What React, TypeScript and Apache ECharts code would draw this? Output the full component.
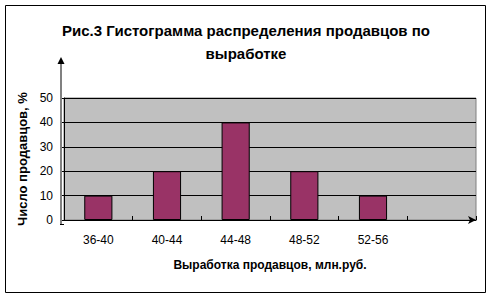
import React, { useEffect, useRef } from "react";
import * as echarts from "echarts";

const categories = ["36-40", "40-44", "44-48", "48-52", "52-56", ""];
const shares = [10, 20, 40, 20, 10];
const yTicks = { min: 0, max: 50, interval: 10 };
const titleText = "Рис.3 Гистограмма распределения продавцов по\nвыработке";
const xTitle = "Выработка продавцов, млн.руб.";
const yTitle = "Число продавцов, %";

const FONT = "'Liberation Sans', Arial, sans-serif";

export default function App() {
  const ref = useRef<HTMLDivElement>(null);
  useEffect(() => {
    if (!ref.current) return;
    const chart = echarts.init(ref.current, null, { renderer: "svg" });
    chart.setOption({
      animation: false,
      backgroundColor: "#ffffff",
      textStyle: { fontFamily: FONT },
      title: {
        text: titleText,
        left: 246,
        textAlign: "center",
        top: 19,
        padding: 0,
        textStyle: {
          fontFamily: FONT,
          fontSize: 15,
          fontWeight: "bold",
          color: "#000",
          lineHeight: 23,
        },
      },
      grid: {
        left: 64,
        top: 98,
        width: 412,
        height: 122,
        show: true,
        backgroundColor: "#C0C0C0",
        borderColor: "#808080",
        borderWidth: 1,
      },
      xAxis: {
        type: "category",
        data: categories,
        boundaryGap: true,
        offset: 4,
        axisLine: {
          show: true,
          lineStyle: { color: "#000", width: 1 },
          symbol: ["none", "arrow"],
          symbolSize: [6, 8],
        },
        axisTick: { show: true, inside: true, length: 4, lineStyle: { color: "#000" } },
        axisLabel: { fontSize: 12, color: "#000", margin: 10, fontFamily: FONT },
        name: xTitle,
        nameLocation: "middle",
        nameGap: 35,
        nameTextStyle: { fontSize: 12, fontWeight: "bold", color: "#000", fontFamily: FONT },
      },
      yAxis: {
        type: "value",
        min: yTicks.min,
        max: yTicks.max,
        interval: yTicks.interval,
        axisLine: { show: true, lineStyle: { color: "#000", width: 1 } },
        axisTick: { show: true, length: 4, lineStyle: { color: "#000" } },
        splitLine: { show: true, lineStyle: { color: "#000", width: 1 } },
        axisLabel: { fontSize: 12, color: "#000", margin: 11, fontFamily: FONT },
        name: yTitle,
        nameLocation: "middle",
        nameGap: 23,
        nameRotate: 90,
        nameTextStyle: { fontSize: 13, fontWeight: "bold", color: "#000", fontFamily: FONT },
      },
      series: [
        {
          type: "bar",
          data: shares,
          barWidth: "41%",
          itemStyle: { color: "#993366", borderColor: "#000", borderWidth: 1 },
        },
      ],
      graphic: [
        {
          type: "rect",
          shape: { x: 5.5, y: 5.5, width: 480, height: 287 },
          style: { fill: "none", stroke: "#000", lineWidth: 1 },
          silent: true,
        },
        {
          type: "line",
          shape: { x1: 61, y1: 63, x2: 61, y2: 225 },
          style: { stroke: "#808080", lineWidth: 2 },
          silent: true,
          z: 10,
        },
        {
          type: "polygon",
          shape: { points: [[61, 57], [57.5, 64], [64.5, 64]] },
          style: { fill: "#000" },
          silent: true,
          z: 10,
        },
        {
          type: "line",
          shape: { x1: 60, y1: 224.5, x2: 64, y2: 224.5 },
          style: { stroke: "#000", lineWidth: 1 },
          silent: true,
          z: 10,
        },
      ],
    });
    return () => chart.dispose();
  }, []);
  return (
    <div
      ref={ref}
      style={{ position: "fixed", left: 0, top: 0, width: 492, height: 300 }}
    />
  );
}
